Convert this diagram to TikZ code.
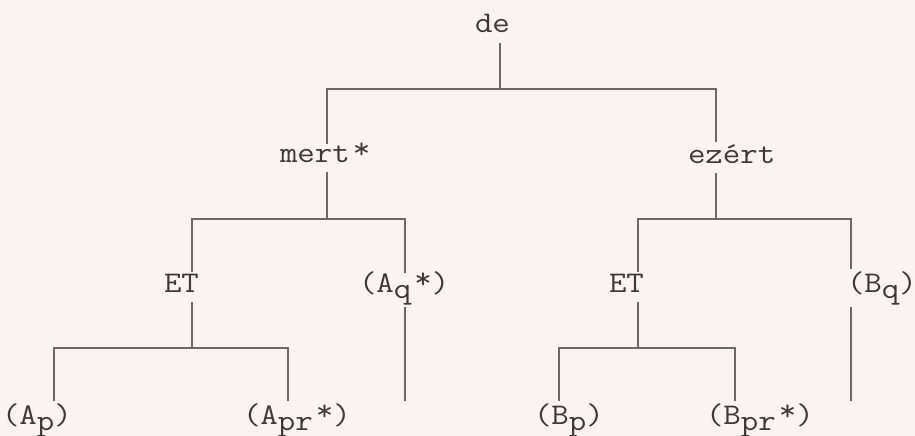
\documentclass[tikz,border=0pt]{standalone}
\usepackage{fontspec}
\newfontfamily\typefont[FakeStretch=1.13]{Latin Modern Mono}
\definecolor{paper}{RGB}{250,243,243}
\definecolor{ink}{RGB}{64,56,56}
\definecolor{rule}{RGB}{112,102,102}
\newcommand\lowsub[1]{\raisebox{-6pt}{#1}}
\newcommand\starx{\kern3pt\raisebox{4pt}{*}}

\begin{document}
\begin{tikzpicture}[x=1pt, y=-1pt, line cap=butt, line join=miter,
  lab/.style={anchor=base west, inner sep=0pt, outer sep=2pt, text=ink,
              font=\typefont\fontsize{30}{34}\selectfont},
  edge/.style={draw=rule, line width=1.3pt},
  fromtext/.style={shorten <=8pt}]

  %% ════ 纸面 ════
  \fill[paper] (0,0) rectangle (915,436);

  %% ════ 标签 ════
  \node[lab] (de)    at (473,33)  {de};
  \node[lab] (mert)  at (278,162) {mert\starx};
  \node[lab] (ezert) at (686,163) {ezért};
  \node[lab] (etA)   at (162,292) {ET};
  \node[lab] (aq)    at (357,292) {(A\lowsub{q}\starx)};
  \node[lab] (etB)   at (607,292) {ET};
  \node[lab] (bq)    at (845,292) {(B\lowsub{q})};
  \node[lab] (ap)    at (0,424)   {(A\lowsub{p})};
  \node[lab] (apr)   at (241,424) {(A\lowsub{pr}\starx)};
  \node[lab] (bp)    at (532,424) {(B\lowsub{p})};
  \node[lab] (bpr)   at (704,424) {(B\lowsub{pr}\starx)};

  %% ════ 分叉点与竖线位置 ════
  \coordinate (f0) at (500,89);   % de 下
  \coordinate (f1) at (327,219);  % mert* 下
  \coordinate (f2) at (716,219);  % ezért 下
  \coordinate (f3) at (192,348);  % 左 ET 下
  \coordinate (f4) at (638,348);  % 右 ET 下
  \coordinate (endAq) at (405,401);
  \coordinate (endBq) at (851,401);
  \coordinate (xAp)  at (54,401);
  \coordinate (xApr) at (288,401);
  \coordinate (xBp)  at (559,401);
  \coordinate (xBpr) at (735,401);

  %% ════ 连线 ════
  \draw[edge,fromtext] (de.south -| f0) -- (f0);
  \draw[edge] ([yshift=-4pt]mert.north -| f1) |- (f0) -| (ezert.north -| f2);

  \draw[edge,fromtext] (mert.south -| f1) -- (f1);
  \draw[edge,fromtext] (ezert.south -| f2) -- (f2);
  \draw[edge] (etA.north -| f3) |- (f1) -| ([yshift=-4pt]aq.north -| endAq);
  \draw[edge] (etB.north -| f4) |- (f2) -| (bq.north -| endBq);
  \draw[edge] (aq.south -| endAq) -- (endAq);
  \draw[edge] (bq.south -| endBq) -- (endBq);

  \draw[edge,fromtext] (etA.south -| f3) -- (f3);
  \draw[edge,fromtext] (etB.south -| f4) -- (f4);
  \draw[edge] (ap.north -| xAp) |- (f3) -| (apr.north -| xApr);
  \draw[edge] (bp.north -| xBp) |- (f4) -| (bpr.north -| xBpr);

  % 钉死画布
  \pgfresetboundingbox
  \path[use as bounding box] (0,0) rectangle (915,436);
\end{tikzpicture}
\end{document}
